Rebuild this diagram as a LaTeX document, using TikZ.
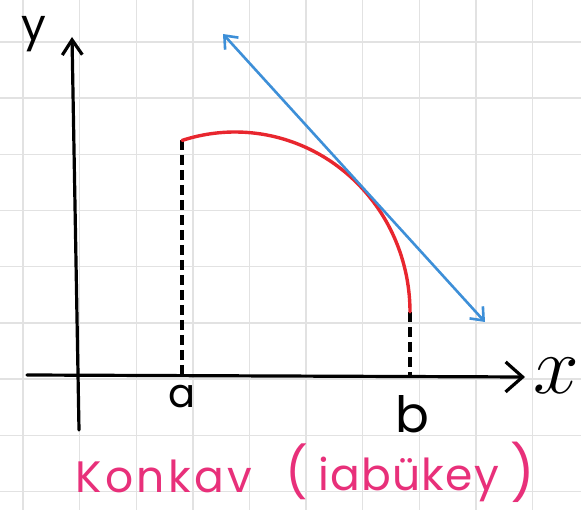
\documentclass[tikz,border=0pt]{standalone}
\usepackage{fontspec}
\setmainfont{Poppins}
\newfontfamily\notefont[LetterSpace=8]{Poppins}
\newfontfamily\wordfont[LetterSpace=3]{Poppins}
\usetikzlibrary{arrows.meta}
\definecolor{gridgray}{HTML}{E2E2E2}
\definecolor{curvered}{HTML}{E8262E}
\definecolor{tanblue}{HTML}{3D8FD8}
\definecolor{notepink}{HTML}{E8307A}
\begin{document}
\begin{tikzpicture}[x=1pt,y=-1pt,
  gridline/.style={gridgray, line width=1.4pt},
  axis/.style={black, line width=3.2pt, line cap=round},
  guide/.style={black, line width=3.2pt, dash pattern=on 10pt off 5pt},
  curve/.style={curvered, line width=3.4pt, line cap=round},
  tangent/.style={tanblue, line width=2.6pt, line cap=round,
    {Straight Barb[length=11pt,width=18pt]}-{Straight Barb[length=11pt,width=18pt]}},
  lbl/.style={black, inner sep=0pt, font=\fontsize{40}{40}\selectfont},
  note/.style={notepink, inner sep=0pt, anchor=base west}]
\fill[white] (0,0) rectangle (581,510);
\useasboundingbox (0,0) rectangle (581,510);
% grid
\foreach \i in {0,...,9} \draw[gridline] (23+56.6*\i,0) -- (23+56.6*\i,510);
\foreach \j in {0,...,8} \draw[gridline] (0,42+56.2*\j) -- (581,42+56.2*\j);
% coordinates
\coordinate (ybot) at (79,430);
\coordinate (ytop) at (72,37);
\coordinate (xleft) at (27,375);
\coordinate (xright) at (525,377);
\coordinate (atop) at (182,140);
\coordinate (abot) at (182,375);
\coordinate (btop) at (410,312);
\coordinate (bbot) at (410,376);
\coordinate (tstart) at (223,34);
\coordinate (tend) at (485,322);
% axes
\draw[axis, -{Straight Barb[length=15pt,width=20pt]}] (ybot) -- (ytop);
\draw[axis, -{Straight Barb[length=17pt,width=30pt]}] (xleft) -- (xright);
% guides
\draw[guide] (atop) -- (abot);
\draw[guide] (btop) -- (bbot);
% curve
\draw[curve] plot[domain=107.6:0, samples=80, smooth] ({235+175*cos(\x)},{312-180*sin(\x)});
% tangent
\draw[tangent] (tstart) -- (tend);
% labels
\node[lbl, font=\fontsize{44}{44}\selectfont] (ylab) at (34,34) {y};
\node[lbl] (xlab) at (556,376) {\scalebox{3.3}{$x$}};
\node[lbl, anchor=base] (alab) at (182,408) {a};
\node[lbl, anchor=base, font=\fontsize{50}{50}\selectfont] (blab) at (412,432) {b};
\node[note, font=\notefont\fontsize{44}{44}\selectfont] (konkav) at (75,492) {Konkav};
\node[note, font=\fontsize{50}{50}\selectfont] (lpar) at (285,490) {(};
\node[note, font=\wordfont\fontsize{44}{44}\selectfont] (icbukey) at (318,490) {iabükey};
\node[note, font=\fontsize{54}{54}\selectfont] (rpar) at (510,492) {)};
\end{tikzpicture}
\end{document}
